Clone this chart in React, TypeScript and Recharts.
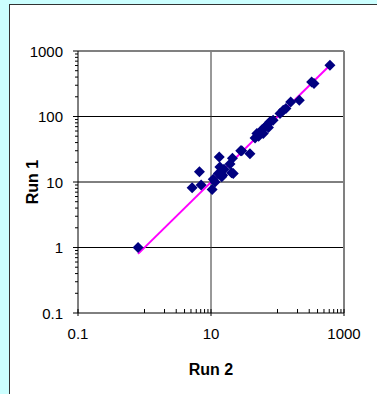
import React from "react"
import { ScatterChart, Scatter, XAxis, YAxis, ReferenceLine, Label } from "recharts"

// Run 2 (x) vs Run 1 (y)
const run2 = [
  0.8, 5.2, 6.7, 7.1, 10.4, 10.8, 11.5, 12.9, 13.3, 13.6, 14.5, 15, 15.7, 19.3,
  20.4, 21, 21.6, 28, 29, 38.5, 46, 49, 52, 55, 58, 61, 65, 70, 73, 77, 86,
  109, 122, 134, 158, 213, 326, 354, 615
]
const run1 = [
  1.0, 8.2, 14.3, 9.0, 7.7, 11, 10, 13.5, 24, 17, 12, 12.7, 15.6, 18.8,
  13.8, 23, 13.5, 30, 30, 27, 47, 55, 50, 58, 62, 55, 69, 74, 68, 83, 88,
  111, 125, 132, 167, 177, 336, 318, 605
]

// fitted line end points
const trendX = [0.8, 620]
const trendY = [0.8, 610]

const xMajor = [0.1, 10, 1000]
const xTicks = [0.1, 1, 2, 3, 4, 5, 6, 7, 8, 9, 10, 100, 200, 300, 400, 500, 600, 700, 800, 900, 1000]
const yMajor = [0.1, 1, 10, 100, 1000]
const yTicks = [
  0.1, 0.2, 0.3, 0.4, 0.5, 0.6, 0.7, 0.8, 0.9,
  1, 2, 3, 4, 5, 6, 7, 8, 9,
  10, 20, 30, 40, 50, 60, 70, 80, 90,
  100, 200, 300, 400, 500, 600, 700, 800, 900, 1000
]

const points = run2.map((x, i) => ({ x, y: run1[i] }))
const trend = trendX.map((x, i) => ({ x, y: trendY[i] }))

const font = "'Liberation Sans', Arial, sans-serif"

const XTick = (props: any) => {
  const { x, y, payload } = props
  const major = xMajor.includes(payload.value)
  return (
    <g>
      <line x1={x} x2={x} y1={y - 4} y2={major ? y + 3 : y} stroke="#000" />
      {major && (
        <text x={x} y={y + 26} textAnchor="middle" fontSize={15} fontFamily={font} fill="#000">
          {payload.value}
        </text>
      )}
    </g>
  )
}

const YTick = (props: any) => {
  const { x, y, payload } = props
  const major = yMajor.includes(payload.value)
  return (
    <g>
      <line x1={major ? x - 5 : x - 3} x2={x} y1={y} y2={y} stroke="#000" />
      {major && (
        <text x={x - 15} y={y + 5.5} textAnchor="end" fontSize={15} fontFamily={font} fill="#000">
          {payload.value}
        </text>
      )}
    </g>
  )
}

const Diamond = (props: any) => {
  const { cx, cy } = props
  const r = 5.5
  return (
    <polygon
      points={`${cx},${cy - r} ${cx + r},${cy} ${cx},${cy + r} ${cx - r},${cy}`}
      fill="#000080"
    />
  )
}

export default function App() {
  return (
    <div style={{ position: "fixed", left: 0, top: 0, width: 377, height: 394, background: "#ccffff", overflow: "hidden" }}>
      <div
        style={{
          position: "absolute",
          left: 9,
          top: 4,
          width: 380,
          height: 400,
          background: "#ffffff",
          border: "1px solid #333333"
        }}
      />
      <div style={{ position: "absolute", left: 0, top: 0 }}>
        <ScatterChart width={377} height={394} margin={{ top: 51, right: 33, bottom: 51, left: 28 }}>
          <XAxis
            type="number"
            dataKey="x"
            scale="log"
            domain={[0.1, 1000]}
            ticks={xTicks}
            interval={0}
            tickSize={0}
            tickMargin={0}
            tick={<XTick />}
            height={30}
            axisLine={{ stroke: "#000" }}
            allowDataOverflow
          >
            <Label
              value="Run 2"
              position="bottom"
              offset={21}
              style={{ fontFamily: font, fontSize: 16, fontWeight: "bold", fill: "#000" }}
            />
          </XAxis>
          <YAxis
            type="number"
            dataKey="y"
            scale="log"
            domain={[0.1, 1000]}
            ticks={yTicks}
            interval={0}
            tickSize={0}
            tickMargin={0}
            tick={<YTick />}
            width={50}
            axisLine={{ stroke: "#000" }}
            allowDataOverflow
          >
            <Label
              value="Run 1"
              angle={-90}
              position="insideLeft"
              offset={4}
              style={{ fontFamily: font, fontSize: 16, fontWeight: "bold", fill: "#000", textAnchor: "middle" }}
            />
          </YAxis>
          <ReferenceLine y={1} stroke="#000" />
          <ReferenceLine y={10} stroke="#000" />
          <ReferenceLine y={100} stroke="#000" />
          <ReferenceLine x={10} stroke="#333" />
          <ReferenceLine y={1000} stroke="#808080" strokeWidth={2} />
          <ReferenceLine x={1000} stroke="#808080" strokeWidth={2} />
          <Scatter
            data={trend}
            line={{ stroke: "#ff00ff", strokeWidth: 2 }}
            shape={() => <g />}
            isAnimationActive={false}
          />
          <Scatter data={points} shape={<Diamond />} isAnimationActive={false} />
        </ScatterChart>
      </div>
    </div>
  )
}
